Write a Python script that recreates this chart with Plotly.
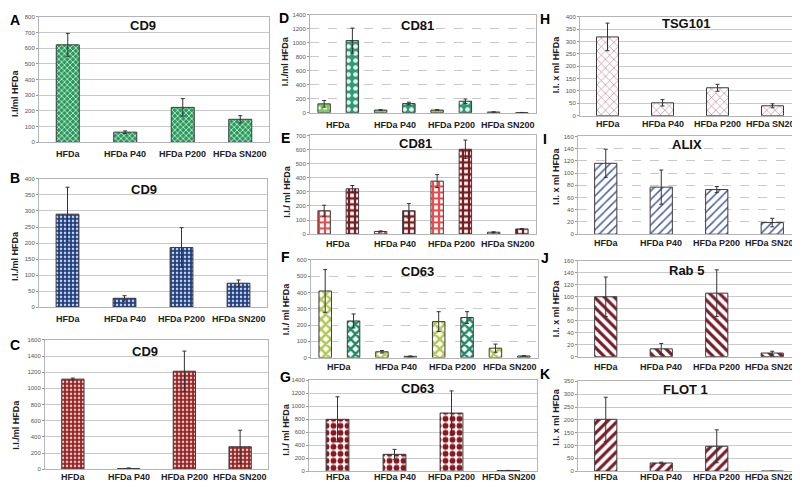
import plotly.graph_objects as go

W, H = 800, 481

categories = ["HFDa", "HFDa P40", "HFDa P200", "HFDa SN200"]

# Panel A - CD9
cd9_a = [622, 65, 223, 147]
cd9_a_err = [73, 8, 56, 23]
# Panel B - CD9
cd9_b = [290, 28, 186, 75]
cd9_b_err = [84, 8, 62, 10]
# Panel C - CD9
cd9_c = [1114, 8, 1212, 278]
cd9_c_err = [13, 8, 249, 204]
# Panel D - CD81 (two series)
cd81_d1 = [127, 38, 38, 10]
cd81_d1_err = [47, 5, 5, 2]
cd81_d2 = [1033, 131, 164, 3]
cd81_d2_err = [179, 20, 33, 1]
# Panel E - CD81 (two series)
cd81_e1 = [166, 19, 376, 14]
cd81_e1_err = [39, 4, 46, 3]
cd81_e2 = [322, 166, 602, 37]
cd81_e2_err = [23, 51, 65, 3]
# Panel F - CD63 (two series)
cd63_f1 = [409, 36, 221, 58]
cd63_f1_err = [131, 8, 61, 25]
cd63_f2 = [225, 8, 246, 10]
cd63_f2_err = [43, 2, 36, 2]
# Panel G - CD63
cd63_g = [799, 260, 896, 10]
cd63_g_err = [347, 76, 341, 2]
# Panel H - TSG101
tsg101 = [319, 52, 113, 40]
tsg101_err = [56, 13, 14, 8]
# Panel I - ALIX
alix = [116, 77, 73, 19]
alix_err = [23, 28, 5, 7]
# Panel J - Rab 5
rab5 = [100, 13, 106, 6]
rab5_err = [33, 9, 39, 3]
# Panel K - FLOT 1
flot1 = [202, 32, 97, 0]
flot1_err = [86, 3, 64, 0]

FONT = "Arial, Liberation Sans, sans-serif"
NARROW = "Liberation Sans Narrow, Arial Narrow, Arial, sans-serif"


def px(x):
    return x / W


def py(y):
    return 1 - y / H


# style of each series: (bg color, fg color, shape, size, solidity)
panels = [
    dict(letter="A", lpos=(7, 9), box=(31, 6, 261, 133), rng=800, dt=100, dash="solid",
         title="CD9", tpos=(135, 15), ytitle="I.I/ml HFDa", ypos=(7, 83), xl=145,
         series=[(cd9_a, cd9_a_err, ("#2a9a5c", "#d8f5e4", "x", 4, 0.35))]),
    dict(letter="B", lpos=(7, 169), box=(31, 170, 259, 300), rng=400, dt=50, dash="solid",
         title="CD9", tpos=(136, 181), ytitle="I.I./ml HFDa", ypos=(7, 248), xl=312,
         series=[(cd9_b, cd9_b_err, ("#233f7d", "#c9d6f2", ".", 4, 0.3))]),
    dict(letter="C", lpos=(7, 338), box=(37, 333, 260, 464), rng=1600, dt=200, dash="solid",
         title="CD9", tpos=(137, 345), ytitle="I.I./ml HFDa", ypos=(8, 419), xl=472,
         series=[(cd9_c, cd9_c_err, ("#962626", "#efcccc", ".", 4, 0.3))]),
    dict(letter="D", lpos=(276, 7), box=(302, 4, 528, 103), rng=1400, dt=200, dash="dash",
         title="CD81", tpos=(410, 15), ytitle="I.I./ml HFDa", ypos=(277, 51), xl=115,
         series=[(cd81_d1, cd81_d1_err, ("#7fc862", "#eefbe6", ".", 6, 0.3)),
                 (cd81_d2, cd81_d2_err, ("#2e9a78", "#e4f7ef", ".", 7, 0.35))]),
    dict(letter="E", lpos=(277, 129), box=(302, 126, 528, 226), rng=700, dt=100, dash="solid",
         title="CD81", tpos=(407, 134), ytitle="I.I./ ml HFDa", ypos=(279, 183), xl=236,
         series=[(cd81_e1, cd81_e1_err, ("#ffffff", "#ee4a4a", "+", 6, 0.6)),
                 (cd81_e2, cd81_e2_err, ("#ffffff", "#7a1c20", "+", 6, 0.62))]),
    dict(letter="F", lpos=(277, 249), box=(303, 252, 530, 351), rng=600, dt=100, dash="dash",
         title="CD63", tpos=(410, 264), ytitle="I.I./ ml HFDa", ypos=(278, 302), xl=361,
         series=[(cd63_f1, cd63_f1_err, ("#ffffff", "#b4c955", "x", 7, 0.6)),
                 (cd63_f2, cd63_f2_err, ("#ffffff", "#1f8a68", "x", 7, 0.6))]),
    dict(letter="G", lpos=(277, 371), box=(301, 374, 529, 466), rng=1400, dt=200, dash="solid",
         title="CD63", tpos=(410, 382), ytitle="I.I./ ml HFDa", ypos=(278, 424), xl=472,
         series=[(cd63_g, cd63_g_err, ("#ffffff", "#8a1820", ".", 7, 0.55))]),
    dict(letter="H", lpos=(537, 8), box=(572, 6, 792, 106), rng=400, dt=50, dash="solid",
         title="TSG101", tpos=(678, 13), ytitle="I.I. x ml HFDa", ypos=(548, 54), xl=114,
         series=[(tsg101, tsg101_err, ("#ffffff", "#c07a98", "x", 6, 0.2))]),
    dict(letter="I", lpos=(537, 130), box=(570, 127, 792, 226), rng=160, dt=20, dash="dash",
         title="ALIX", tpos=(679, 135), ytitle="I.I. x ml HFDa", ypos=(548, 167), xl=235,
         series=[(alix, alix_err, ("#ffffff", "#4a5c98", "/", 6, 0.25))]),
    dict(letter="J", lpos=(537, 250), box=(570, 253, 792, 350), rng=160, dt=20, dash="solid",
         title="Rab 5", tpos=(678, 263), ytitle="I.I. x ml HFDa", ypos=(548, 301), xl=360,
         series=[(rab5, rab5_err, ("#ffffff", "#7a1a28", "\\", 7, 0.45))]),
    dict(letter="K", lpos=(537, 368), box=(570, 375, 792, 466), rng=350, dt=50, dash="solid",
         title="FLOT 1", tpos=(677, 383), ytitle="I.I. x ml HFDa", ypos=(548, 411), xl=472,
         series=[(flot1, flot1_err, ("#ffffff", "#7a1a28", "/", 7, 0.45))]),
]

fig = go.Figure()
annotations = []
layout = {}

for i, p in enumerate(panels):
    n = i + 1
    xa = "x" if n == 1 else f"x{n}"
    ya = "y" if n == 1 else f"y{n}"
    xkey = "xaxis" if n == 1 else f"xaxis{n}"
    ykey = "yaxis" if n == 1 else f"yaxis{n}"
    x0, y0, x1, y1 = p["box"]
    ns = len(p["series"])
    for j, (vals, errs, st) in enumerate(p["series"]):
        bg, fg, shape, size, sol = st
        if ns == 1:
            width, offset = 0.4, -0.2
        else:
            width = 0.22
            offset = -0.25 - width / 2 if j == 0 else 0.25 - width / 2
        fig.add_trace(go.Bar(
            x=categories, y=vals, xaxis=xa, yaxis=ya,
            width=width, offset=offset,
            marker=dict(color=bg, line=dict(color="#3a3a3a", width=1),
                        pattern=dict(shape=shape, fgcolor=fg, bgcolor=bg,
                                     size=size, solidity=sol, fillmode="replace")),
            error_y=dict(type="data", array=errs, visible=True, color="#333333",
                         thickness=1, width=2),
            showlegend=False,
        ))
    layout[xkey] = dict(domain=[px(x0), px(x1)], anchor=ya, type="category",
                        showline=True, mirror=True, linecolor="#b5b5b5", linewidth=1,
                        showgrid=False, ticks="", showticklabels=False,
                        range=[-0.5, 3.5], fixedrange=True)
    layout[ykey] = dict(domain=[py(y1), py(y0)], anchor=xa, range=[0, p["rng"]],
                        dtick=p["dt"], tick0=0, showline=True, mirror=True,
                        linecolor="#b5b5b5", linewidth=1, showgrid=True,
                        gridcolor="#c9c9c9", gridwidth=1, griddash=p["dash"],
                        zeroline=False, ticks="outside", ticklen=2, tickcolor="#999",
                        tickfont=dict(size=6, color="#555", family=FONT),
                        fixedrange=True)
    # category tick labels
    for k, c in enumerate(categories):
        xc = x0 + (x1 - x0) * (k + 0.5) / 4
        annotations.append(dict(x=px(xc), y=py(p["xl"]), xref="paper", yref="paper",
                                text=f"<b>{c}</b>", showarrow=False, borderpad=0,
                                font=dict(size=9, color="#222", family=NARROW),
                                xanchor="center", yanchor="middle"))
    annotations.append(dict(x=px(p["tpos"][0]), y=py(p["tpos"][1]), xref="paper",
                            yref="paper", text=f"<b>{p['title']}</b>", showarrow=False,
                            font=dict(size=13, color="#111", family=NARROW),
                            xanchor="center", yanchor="middle"))
    annotations.append(dict(x=px(p["ypos"][0]), y=py(p["ypos"][1]), xref="paper",
                            yref="paper", text=f"<b>{p['ytitle']}</b>", showarrow=False,
                            textangle=-90, borderpad=0,
                            font=dict(size=9, color="#222", family=NARROW),
                            xanchor="center", yanchor="middle"))
    annotations.append(dict(x=px(p["lpos"][0]), y=py(p["lpos"][1]), xref="paper",
                            yref="paper", text=f"<b>{p['letter']}</b>", showarrow=False,
                            borderpad=0,
                            font=dict(size=14, color="#000", family=FONT),
                            xanchor="center", yanchor="middle"))

fig.update_layout(
    width=W, height=H, margin=dict(l=0, r=0, t=0, b=0),
    paper_bgcolor="white", plot_bgcolor="white",
    barmode="overlay", annotations=annotations, showlegend=False,
    font=dict(family=FONT), **layout,
)

fig.write_html("out.html")
